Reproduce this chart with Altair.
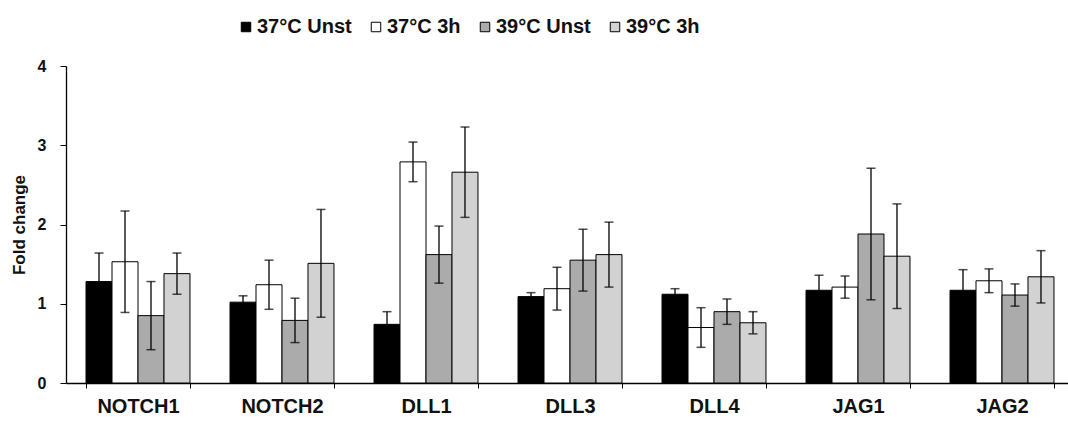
import altair as alt
import pandas as pd

genes = ["NOTCH1", "NOTCH2", "DLL1", "DLL3", "DLL4", "JAG1", "JAG2"]
series = ["37°C Unst", "37°C 3h", "39°C Unst", "39°C 3h"]

mean_37_unst = [1.28, 1.02, 0.74, 1.09, 1.12, 1.17, 1.17]
mean_37_3h = [1.53, 1.24, 2.79, 1.19, 0.70, 1.21, 1.29]
mean_39_unst = [0.85, 0.79, 1.62, 1.55, 0.90, 1.88, 1.11]
mean_39_3h = [1.38, 1.51, 2.66, 1.62, 0.76, 1.60, 1.34]

err_37_unst = [0.36, 0.08, 0.16, 0.05, 0.07, 0.19, 0.26]
err_37_3h = [0.64, 0.31, 0.25, 0.27, 0.25, 0.14, 0.15]
err_39_unst = [0.43, 0.28, 0.36, 0.39, 0.16, 0.83, 0.14]
err_39_3h = [0.26, 0.68, 0.57, 0.41, 0.14, 0.66, 0.33]

fills = ["#000000", "#ffffff", "#ababab", "#d2d2d2"]

means = [mean_37_unst, mean_37_3h, mean_39_unst, mean_39_3h]
errs = [err_37_unst, err_37_3h, err_39_unst, err_39_3h]

rows = []
for s, m, e in zip(series, means, errs):
    for g, v, d in zip(genes, m, e):
        rows.append({"gene": g, "series": s, "value": v, "lo": v - d, "hi": v + d})
df = pd.DataFrame(rows)

FONT = "Liberation Sans"

x_enc = alt.X(
    "gene:N",
    sort=genes,
    scale=alt.Scale(range=[0, 1008], paddingInner=0.278, paddingOuter=0.139),
    axis=alt.Axis(
        title=None,
        labelAngle=0,
        labelFont=FONT,
        labelFontSize=20,
        labelFontWeight="bold",
        labelColor="#111111",
        labelPadding=8,
        tickBand="extent",
        tickSize=5,
        tickColor="#000000",
        domainColor="#000000",
        domainWidth=1.3,
    ),
)
xoff = alt.XOffset("series:N", sort=series, scale=alt.Scale(paddingInner=0, paddingOuter=0))

y_scale = alt.Scale(domain=[0, 4], nice=False)

bars = alt.Chart(df).mark_bar(stroke="#000000", strokeWidth=1, opacity=1).encode(
    x=x_enc,
    xOffset=xoff,
    y=alt.Y(
        "value:Q",
        scale=y_scale,
        axis=alt.Axis(
            title="Fold change",
            titleFont=FONT,
            titleFontSize=17,
            titleFontWeight="bold",
            titleColor="#111111",
            titlePadding=9,
            labelFont=FONT,
            labelFontSize=16,
            labelFontWeight="bold",
            labelColor="#111111",
            labelPadding=14,
            values=[0, 1, 2, 3, 4],
            format="d",
            grid=False,
            tickSize=6,
            tickColor="#000000",
            domainColor="#000000",
            domainWidth=1.3,
        ),
    ),
    fill=alt.Fill(
        "series:N",
        sort=series,
        scale=alt.Scale(domain=series, range=fills),
        legend=alt.Legend(
            title=None,
            orient="none",
            legendX=170,
            legendY=-49,
            direction="horizontal",
            symbolType="square",
            symbolSize=90,
            symbolStrokeColor="#000000",
            symbolStrokeWidth=1,
            symbolOpacity=1,
            labelFont=FONT,
            labelFontSize=20,
            labelFontWeight="bold",
            labelColor="#111111",
            labelOffset=1,
            columnPadding=14,
        ),
    ),
)

rules = alt.Chart(df).mark_rule(color="#000000", strokeWidth=1.3).encode(
    x=alt.X("gene:N", sort=genes),
    xOffset=alt.XOffset("series:N", sort=series),
    y=alt.Y("lo:Q", scale=y_scale),
    y2="hi:Q",
)

caps_hi = alt.Chart(df).mark_tick(color="#000000", thickness=1.5, size=9, orient="horizontal").encode(
    x=alt.X("gene:N", sort=genes),
    xOffset=alt.XOffset("series:N", sort=series),
    y=alt.Y("hi:Q", scale=y_scale),
)
caps_lo = alt.Chart(df).mark_tick(color="#000000", thickness=1.5, size=9, orient="horizontal").encode(
    x=alt.X("gene:N", sort=genes),
    xOffset=alt.XOffset("series:N", sort=series),
    y=alt.Y("lo:Q", scale=y_scale),
)

chart = alt.layer(bars, rules, caps_hi, caps_lo).properties(
    width=1002,
    height=317,
    autosize=alt.AutoSizeParams(type="none"),
    padding={"left": 66, "top": 66, "right": 0, "bottom": 39},
    background="#ffffff",
).configure_view(stroke=None)

chart.save("out.html", embed_options={"renderer": "svg", "actions": False})
